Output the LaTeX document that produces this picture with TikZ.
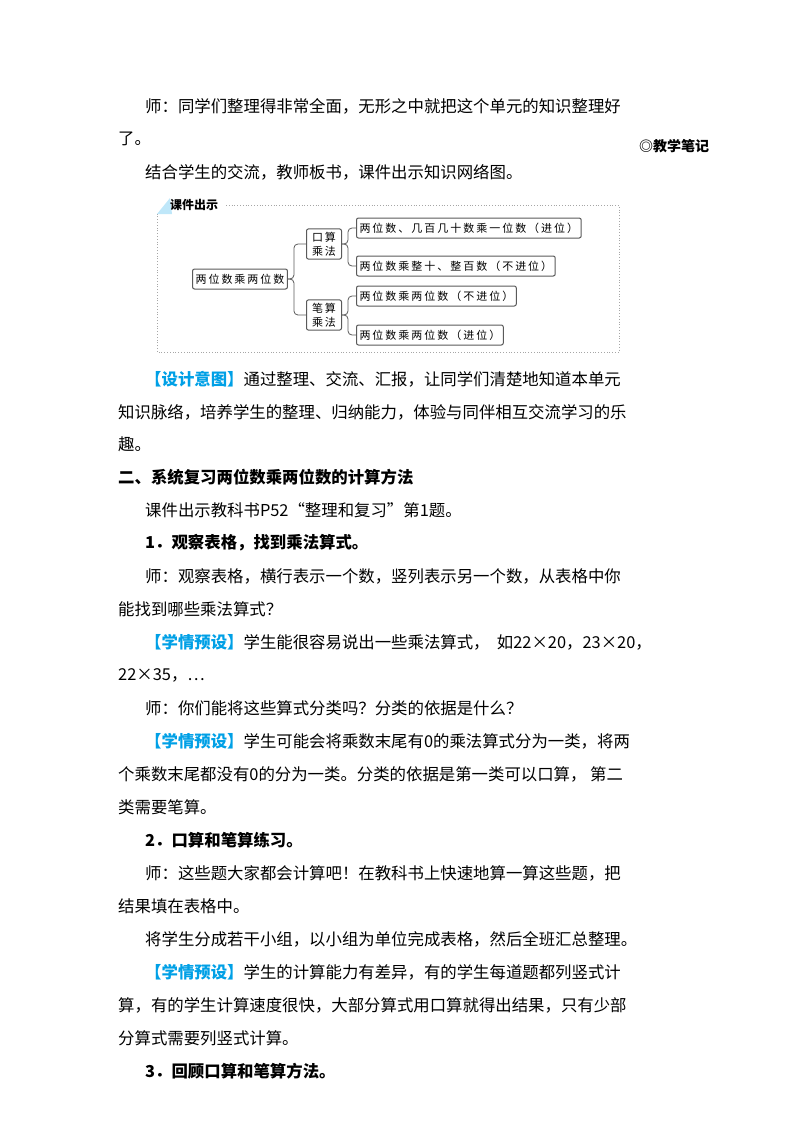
\documentclass[tikz,border=0pt]{standalone}
\usepackage{fontspec}
\setmainfont{Liberation Serif}
\newfontfamily\cjk{Noto Sans CJK SC}
\newfontfamily\cjkwide{Noto Sans CJK SC}[LetterSpace=18]
\usetikzlibrary{positioning}
\definecolor{tipblue}{RGB}{0,160,230}
\definecolor{boxgray}{RGB}{90,90,90}
\tikzset{
    txt/.style={anchor=west, inner sep=0pt, font=\cjk\fontsize{16.4}{16.4}\selectfont}, % body text lines
    bold/.style={txt, font=\cjk\bfseries\fontsize{16.4}{16.4}\selectfont},
    box/.style={draw=boxgray, line width=1pt, rounded corners=2pt, inner sep=3pt, minimum height=20pt, font=\cjkwide\fontsize{11}{14}\selectfont, fill=white},
    link/.style={draw=boxgray, line width=0.8pt, rounded corners=4pt},
    }
\newcommand{\tip}[1]{\textcolor{tipblue}{\bfseries #1}}
\begin{document}
\begin{tikzpicture}[x=1pt, y=-1pt]
\useasboundingbox (0,0) rectangle (800,1132);
% text above the diagram
\node[txt] (l1) at (145,106) {师：同学们整理得非常全面，无形之中就把这个单元的知识整理好};
\node[txt] (l2) at (118,139) {了。};
\node[bold, font=\cjk\bfseries\fontsize{14}{14}\selectfont] (note) at (639,146) {◎教学笔记};
\node[txt] (l3) at (145,172) {结合学生的交流，教师板书，课件出示知识网络图。};
% knowledge network
\draw[gray!70, dotted, line width=0.8pt] (226,205) -- (619,205) -- (619,352) -- (157,352) -- (157,214);
\fill[tipblue!25] (157,214) -- (170,198) -- (172,214) -- cycle;
\node[anchor=west, inner sep=0pt, font=\cjk\bfseries\fontsize{12}{12}\selectfont] (title) at (170,205) {课件出示};
\node[box] (root) at (240,279) {两位数乘两位数};
\node[box, align=center, minimum width=35pt] (oral) at (324,244) {口算\\乘法};
\node[box, align=center, minimum width=35pt] (written) at (324,315) {笔算\\乘法};
\node[box, anchor=west] (a) at (356,228) {两位数、几百几十数乘一位数（进位）};
\node[box, anchor=west] (b) at (356,266) {两位数乘整十、整百数（不进位）};
\node[box, anchor=west] (c) at (356,296) {两位数乘两位数（不进位）};
\node[box, anchor=west] (d) at (356,335) {两位数乘两位数（进位）};
\foreach \p/\c in {root/oral, root/written, oral/a, oral/b, written/c, written/d}
    \draw[link] (\p.east) -- ++(6,0) |- (\c.west);
% text below the diagram
\node[txt] at (145,379) {\tip{【设计意图】}通过整理、交流、汇报，让同学们清楚地知道本单元};
\node[txt] at (118,412) {知识脉络，培养学生的整理、归纳能力，体验与同伴相互交流学习的乐};
\node[txt] at (118,444) {趣。};
\node[bold] at (118,477) {二、系统复习两位数乘两位数的计算方法};
\node[txt] at (145,510) {课件出示教科书P52“整理和复习”第1题。};
\node[bold] at (145,543) {1．观察表格，找到乘法算式。};
\node[txt] at (145,576) {师：观察表格，横行表示一个数，竖列表示另一个数，从表格中你};
\node[txt] at (118,609) {能找到哪些乘法算式？};
\node[txt] at (145,642) {\tip{【学情预设】}学生能很容易说出一些乘法算式，\ \ 如22×20，23×20，};
\node[txt] at (118,675) {22×35，…};
\node[txt] at (145,708) {师：你们能将这些算式分类吗？分类的依据是什么？};
\node[txt] at (145,741) {\tip{【学情预设】}学生可能会将乘数末尾有0的乘法算式分为一类，将两};
\node[txt] at (118,774) {个乘数末尾都没有0的分为一类。分类的依据是第一类可以口算，\ 第二};
\node[txt] at (118,807) {类需要笔算。};
\node[bold] at (145,840) {2．口算和笔算练习。};
\node[txt] at (145,873) {师：这些题大家都会计算吧！在教科书上快速地算一算这些题，把};
\node[txt] at (118,906) {结果填在表格中。};
\node[txt] at (145,939) {将学生分成若干小组，以小组为单位完成表格，然后全班汇总整理。};
\node[txt] at (145,972) {\tip{【学情预设】}学生的计算能力有差异，有的学生每道题都列竖式计};
\node[txt] at (118,1005) {算，有的学生计算速度很快，大部分算式用口算就得出结果，只有少部};
\node[txt] at (118,1038) {分算式需要列竖式计算。};
\node[bold] at (145,1071) {3．回顾口算和笔算方法。};
\end{tikzpicture}
\end{document}
